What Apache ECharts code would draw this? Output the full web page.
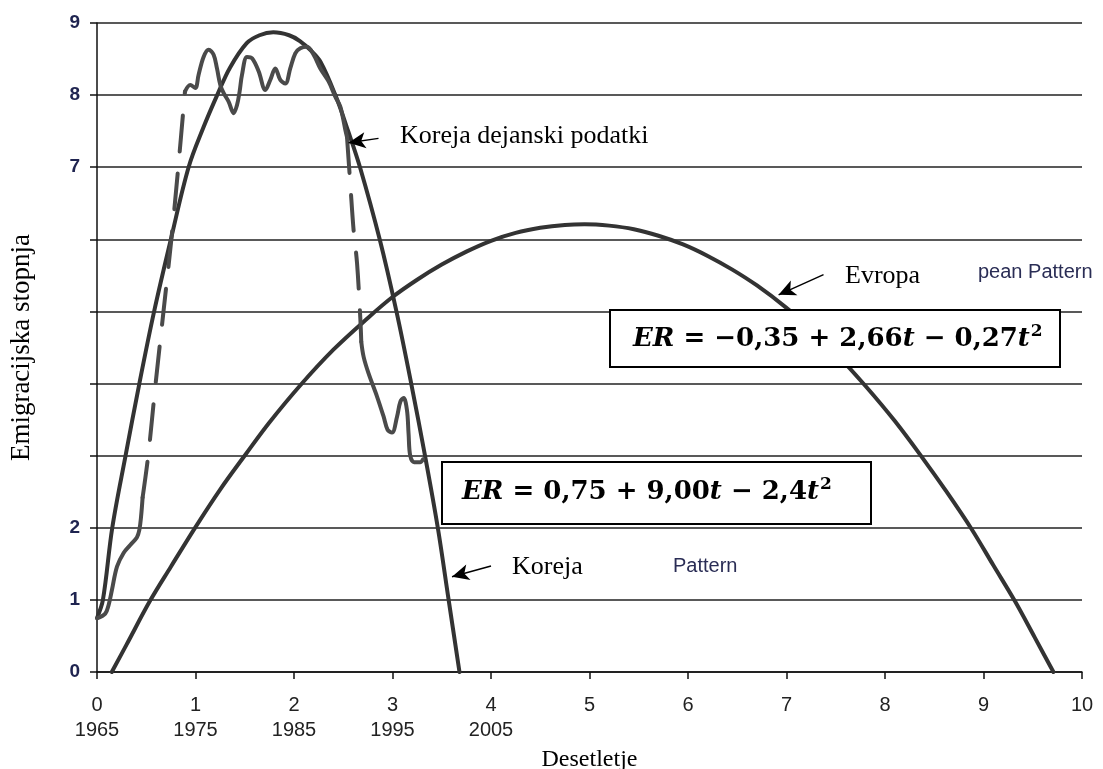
<!DOCTYPE html>
<html>
<head>
<meta charset="utf-8">
<script src="https://cdn.jsdelivr.net/npm/echarts@6/dist/echarts.min.js"></script>
<style>
  html, body { margin: 0; padding: 0; background: #fff; }
  #chart { width: 1103px; height: 769px; }
</style>
</head>
<body>
<div id="chart"></div>
<script>
// decades since 1965 (t) vs emigration rate
const xYears = ["1965", "1975", "1985", "1995", "2005"];
const yShownLabels = [0, 1, 2, 7, 8, 9];

// Korea fitted curve
const koreaFit = [
  [0, 0.75], [0.06, 1], [0.155, 2], [0.29, 3], [0.43, 4], [0.58, 5],
  [0.75, 6], [0.93, 7], [1.08, 7.55], [1.22, 8], [1.35, 8.38], [1.52, 8.72],
  [1.65, 8.83], [1.79, 8.87], [1.95, 8.83], [2.06, 8.75], [2.17, 8.62],
  [2.27, 8.46], [2.42, 8.0], [2.55, 7.5], [2.67, 7], [2.87, 6], [3.04, 5],
  [3.19, 4], [3.33, 3], [3.46, 2], [3.57, 1], [3.68, 0]
];

// Europe fitted curve
const europeFit = [
  [0.15, 0], [0.3, 0.38], [0.54, 0.99], [0.75, 1.46], [1.0, 2.01], [1.25, 2.53],
  [1.51, 3.02], [1.75, 3.46], [2.06, 3.97], [2.4, 4.47], [2.75, 4.91],
  [3.0, 5.2], [3.25, 5.44], [3.5, 5.65], [3.75, 5.83], [4.0, 5.98],
  [4.25, 6.09], [4.5, 6.16], [4.75, 6.2], [4.95, 6.21], [5.2, 6.19],
  [5.45, 6.14], [5.7, 6.05], [5.95, 5.93], [6.2, 5.77], [6.45, 5.58],
  [6.7, 5.36], [6.99, 5.06], [7.25, 4.75], [7.5, 4.42], [7.8, 3.97],
  [8.1, 3.48], [8.38, 2.97], [8.63, 2.49], [8.88, 1.98], [9.1, 1.48],
  [9.32, 0.98], [9.52, 0.48], [9.71, 0]
];

// Korea actual data, split into the solid and dashed stretches of the drawing
const koreaActualA = [
  [0, 0.745], [0.084, 0.81], [0.118, 0.93], [0.152, 1.14], [0.203, 1.46],
  [0.27, 1.65], [0.338, 1.76], [0.406, 1.87], [0.43, 1.97], [0.447, 2.15],
  [0.463, 2.42]
];
const koreaActualB = [
  [0.463, 2.42], [0.52, 3.0], [0.595, 4.0], [0.675, 5.0], [0.755, 6.0],
  [0.825, 7.0], [0.893, 8.05]
];
const koreaActualC = [
  [0.893, 8.05], [0.947, 8.14], [0.998, 8.10], [1.031, 8.28], [1.082, 8.53],
  [1.133, 8.63], [1.184, 8.56], [1.218, 8.37], [1.252, 8.14], [1.285, 8.03],
  [1.336, 7.91], [1.387, 7.75], [1.421, 7.86], [1.448, 8.05], [1.472, 8.28],
  [1.523, 8.53], [1.574, 8.51], [1.641, 8.33], [1.709, 8.07], [1.759, 8.21],
  [1.81, 8.37], [1.861, 8.21], [1.912, 8.16], [1.962, 8.37], [2.013, 8.58],
  [2.064, 8.65], [2.132, 8.67], [2.199, 8.56], [2.267, 8.37], [2.351, 8.19],
  [2.419, 7.98], [2.47, 7.84], [2.521, 7.52], [2.538, 7.42]
];
const koreaActualD = [
  [2.538, 7.42], [2.571, 6.78], [2.605, 6.13], [2.64, 5.67], [2.673, 4.91],
  [2.683, 4.58]
];
const koreaActualE = [
  [2.683, 4.58], [2.707, 4.37], [2.757, 4.14], [2.843, 3.82], [2.91, 3.54],
  [2.95, 3.36], [2.995, 3.32], [3.046, 3.54], [3.08, 3.75], [3.113, 3.80],
  [3.147, 3.63], [3.163, 3.31], [3.18, 3.0], [3.22, 2.91], [3.28, 2.91],
  [3.31, 2.95]
];

// annotation arrows: [from, to] in data units
const arrows = [
  [[2.858, 7.40], [2.554, 7.34]],
  [[7.376, 5.51], [6.92, 5.23]],
  [[4.0, 1.47], [3.604, 1.32]]
];

const SERIF = '"Liberation Serif", "Times New Roman", serif';
const SANS = '"Liberation Sans", Arial, sans-serif';
const MATH = '"DejaVu Serif", serif';

const chart = echarts.init(document.getElementById("chart"));

const curve = (data, color, dashed) => ({
  type: "line",
  data: data,
  smooth: 0.35,
  symbol: "none",
  silent: true,
  lineStyle: { color: color, width: 4, type: dashed ? [36, 22] : "solid", cap: "round", join: "round" },
  z: 3,
});

const formulaRich = {
  i: { fontFamily: MATH, fontWeight: "bold", fontStyle: "italic", fontSize: 26, fill: "#000" },
  s: { fontFamily: MATH, fontWeight: "bold", fontSize: 17, fill: "#000", padding: [0, 0, 14, 1] },
};

chart.setOption({
  animation: false,
  backgroundColor: "#fff",
  grid: { left: 97, right: 21, top: 23, bottom: 97, containLabel: false, outerBoundsMode: "none" },
  xAxis: {
    type: "value",
    min: 0,
    max: 10,
    interval: 1,
    name: "Desetletje",
    nameLocation: "middle",
    nameGap: 76,
    nameMoveOverlap: false,
    nameTextStyle: { fontFamily: SERIF, fontSize: 24, color: "#000" },
    axisLine: { lineStyle: { color: "#111", width: 1.5 } },
    axisTick: { show: true, length: 7, lineStyle: { color: "#111", width: 1.5 } },
    splitLine: { show: false },
    axisLabel: {
      margin: 21,
      fontFamily: SANS,
      fontSize: 20,
      lineHeight: 25,
      color: "#222",
      formatter: (v) => (v < xYears.length ? v + "\n" + xYears[v] : String(v)),
    },
  },
  yAxis: {
    type: "value",
    min: 0,
    max: 9,
    interval: 1,
    name: "Emigracijska stopnja",
    nameLocation: "middle",
    nameGap: 62,
    nameMoveOverlap: false,
    nameTextStyle: { fontFamily: SERIF, fontSize: 27, color: "#000" },
    axisLine: { show: true, lineStyle: { color: "#111", width: 1.5 } },
    axisTick: { show: true, length: 7, lineStyle: { color: "#111", width: 1.5 } },
    splitLine: { show: true, lineStyle: { color: "#222", width: 1.5 } },
    axisLabel: {
      margin: 17,
      fontFamily: SANS,
      fontSize: 19,
      fontWeight: "bold",
      color: "#1f2450",
      formatter: (v) => (yShownLabels.includes(v) ? String(v) : ""),
    },
  },
  series: [
    curve(europeFit, "#333", false),
    curve(koreaFit, "#333", false),
    curve(koreaActualA, "#4a4a4a", false),
    curve(koreaActualB, "#4a4a4a", true),
    curve(koreaActualC, "#4a4a4a", false),
    curve(koreaActualD, "#4a4a4a", true),
    curve(koreaActualE, "#4a4a4a", false),
    {
      type: "line",
      data: [],
      silent: true,
      markLine: {
        silent: true,
        symbol: ["none", "arrow"],
        symbolSize: [12, 17],
        label: { show: false },
        lineStyle: { color: "#000", width: 1.5, type: "solid" },
        emphasis: { disabled: true },
        data: arrows.map(([a, b]) => [{ coord: a }, { coord: b }]),
      },
    },
  ],
  graphic: [
    { type: "text", x: 400, y: 136, z: 100, style: { text: "Koreja dejanski podatki", font: "26px " + SERIF, fill: "#000", textVerticalAlign: "middle", verticalAlign: "middle" } },
    { type: "text", x: 845, y: 276, z: 100, style: { text: "Evropa", font: "26px " + SERIF, fill: "#000", textVerticalAlign: "middle", verticalAlign: "middle" } },
    { type: "text", x: 978, y: 272, z: 100, style: { text: "pean Pattern", font: "20px " + SANS, fill: "#2a2d55", textVerticalAlign: "middle", verticalAlign: "middle" } },
    { type: "text", x: 512, y: 567, z: 100, style: { text: "Koreja", font: "26px " + SERIF, fill: "#000", textVerticalAlign: "middle", verticalAlign: "middle" } },
    { type: "text", x: 673, y: 566, z: 100, style: { text: "Pattern", font: "20px " + SANS, fill: "#2a2d55", textVerticalAlign: "middle", verticalAlign: "middle" } },
    { type: "rect", z: 100, shape: { x: 610, y: 310, width: 450, height: 57 }, style: { fill: "#fff", stroke: "#000", lineWidth: 2 } },
    {
      type: "text", x: 633, y: 339, z: 101,
      style: {
        text: "{i|ER} = −0,35 + 2,66{i|t} − 0,27{i|t}{s|2}",
        font: "bold 26px " + MATH, fill: "#000",
        textVerticalAlign: "middle", verticalAlign: "middle",
        rich: formulaRich,
      },
    },
    { type: "rect", z: 100, shape: { x: 442, y: 462, width: 429, height: 62 }, style: { fill: "#fff", stroke: "#000", lineWidth: 2 } },
    {
      type: "text", x: 462, y: 492, z: 101,
      style: {
        text: "{i|ER} = 0,75 + 9,00{i|t} − 2,4{i|t}{s|2}",
        font: "bold 26px " + MATH, fill: "#000",
        textVerticalAlign: "middle", verticalAlign: "middle",
        rich: formulaRich,
      },
    },
  ],
});

window.addEventListener("resize", () => chart.resize());
</script>
</body>
</html>
